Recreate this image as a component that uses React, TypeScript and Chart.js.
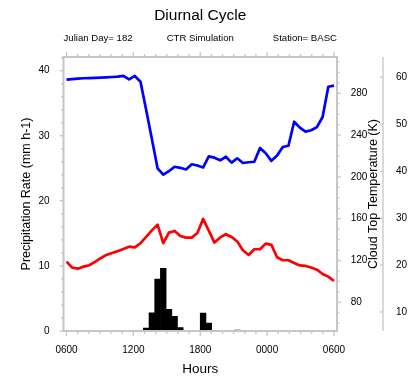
import React, { useEffect, useRef } from 'react';
import { Chart, registerables } from 'chart.js';

Chart.register(...registerables);

const TITLE = 'Diurnal Cycle';
const SUB_LEFT = 'Julian Day= 182';
const SUB_CENTER = 'CTR Simulation';
const SUB_RIGHT = 'Station= BASC';
const X_TITLE = 'Hours';
const Y_TITLE = 'Precipitation Rate (mm h-1)';
const Y2_TITLE = 'Cloud Top Temperature (K)';

// 48 samples spanning 0600 -> 0600 (hours after 0600)
const SAMPLE_COUNT = 48;
const hours = Array.from({ length: SAMPLE_COUNT }, (_, i) => (i * 24) / (SAMPLE_COUNT - 1));

const xTickValues = [0, 6, 12, 18, 24];
const xTickLabels = ['0600', '1200', '1800', '0000', '0600'];
const precipTicks = [0, 10, 20, 30, 40];
const cttTicks = [80, 120, 160, 200, 240, 280];
const outerTicks = [10, 20, 30, 40, 50, 60];

const precipitation = [
  0, 0, 0, 0, 0, 0, 0, 0, 0, 0, 0, 0, 0, 0,
  0.46, 2.81, 7.99, 9.63, 3.33, 2.27, 0.54, 0, 0, 0,
  2.77, 1.23, 0, 0, 0, 0, 0.15, 0, 0, 0, 0, 0,
  0, 0, 0, 0, 0, 0, 0, 0, 0, 0, 0, 0,
];

const cloudTopTemp = [
  293.0, 293.5, 294.1, 294.4, 294.6, 294.8, 295.0, 295.3, 295.6, 296.0, 296.6, 293.4,
  296.6, 291.1, 264.0, 236.3, 208.2, 202.1, 205.6, 209.7, 208.7, 207.1, 212.1, 210.9,
  209.0, 219.7, 218.4, 215.9, 219.3, 213.6, 217.8, 213.3, 214.0, 214.5, 227.7, 222.6,
  215.4, 220.5, 228.6, 229.8, 252.8, 247.1, 243.3, 244.6, 247.6, 257.3, 286.3, 287.3,
];

const thirdSeries = [
  20.72, 19.45, 19.23, 19.66, 19.96, 20.66, 21.45, 22.15, 22.58, 22.96, 23.43, 23.92,
  23.75, 24.65, 25.99, 27.38, 28.61, 24.65, 26.91, 27.27, 26.2, 25.84, 25.84, 26.84,
  29.83, 27.33, 24.78, 25.88, 26.57, 25.99, 25.03, 23.16, 22.15, 23.37, 23.37, 24.56,
  24.29, 21.66, 21.02, 21.02, 20.45, 19.91, 19.81, 19.49, 19.02, 18.1, 17.53, 16.61,
];

const FONT = '"Liberation Sans", Arial, Helvetica, sans-serif';
const FRAME = '#c6c6c6';
const TEXT = '#000000';

const nclPlugin = {
  id: 'nclDecor',
  afterDatasetsDraw(chart: any) {
    const { ctx, chartArea: ca, scales } = chart;
    ctx.save();
    ctx.strokeStyle = FRAME;
    ctx.lineWidth = 2;
    ctx.strokeRect(ca.left, ca.top, ca.right - ca.left, ca.bottom - ca.top);
    ctx.lineWidth = 1.3;
    const seg = (x1: number, y1: number, x2: number, y2: number) => {
      ctx.beginPath();
      ctx.moveTo(x1, y1);
      ctx.lineTo(x2, y2);
      ctx.stroke();
    };
    // x ticks (bottom + top), hourly minors
    for (let h = 0; h <= 24; h += 1) {
      const px = scales.x.getPixelForValue(h);
      const len = h % 6 === 0 ? 5 : 3;
      seg(px, ca.bottom, px, ca.bottom + len);
      seg(px, ca.top, px, ca.top - len);
    }
    // left axis ticks
    for (let v = 0; v <= scales.y.max; v += 2) {
      const py = scales.y.getPixelForValue(v);
      const len = v % 10 === 0 ? 4 : 2.5;
      seg(ca.left, py, ca.left - len, py);
    }
    // right (temperature) axis ticks
    for (let v = 60; v <= scales.y2.max; v += 10) {
      const py = scales.y2.getPixelForValue(v);
      const len = (v - 80) % 40 === 0 ? 4 : 2.5;
      seg(ca.right, py, ca.right + len, py);
    }
    // outer axis line + ticks
    const ox = scales.y3.left;
    seg(ox, ca.top, ox, ca.bottom);
    for (const v of outerTicks) {
      const py = scales.y3.getPixelForValue(v);
      seg(ox, py, ox - 3, py);
    }
    ctx.restore();
  },
  afterDraw(chart: any) {
    const { ctx, chartArea: ca } = chart;
    ctx.save();
    ctx.fillStyle = TEXT;
    ctx.textBaseline = 'alphabetic';
    ctx.font = `15.5px ${FONT}`;
    ctx.textAlign = 'center';
    ctx.fillText(TITLE, (ca.left + ca.right) / 2, 19.7);
    ctx.font = `9.6px ${FONT}`;
    ctx.textAlign = 'left';
    ctx.fillText(SUB_LEFT, ca.left, 40.5);
    ctx.textAlign = 'center';
    ctx.fillText(SUB_CENTER, (ca.left + ca.right) / 2, 40.5);
    ctx.textAlign = 'right';
    ctx.fillText(SUB_RIGHT, ca.right, 40.5);
    // right axis title, reading bottom-to-top
    ctx.translate(373.7, (ca.top + ca.bottom) / 2);
    ctx.rotate(-Math.PI / 2);
    ctx.font = `12.5px ${FONT}`;
    ctx.textAlign = 'center';
    ctx.textBaseline = 'middle';
    ctx.fillText(Y2_TITLE, 0, 0);
    ctx.restore();
  },
};

export default function App() {
  const ref = useRef<HTMLCanvasElement>(null);
  useEffect(() => {
    document.body.style.margin = '0';
    const tickFont = { family: FONT, size: 10 };
    const chart = new Chart(ref.current as HTMLCanvasElement, {
      type: 'line',
      data: {
        datasets: [
          {
            type: 'line',
            label: 'Cloud Top Temperature',
            data: hours.map((h, i) => ({ x: h, y: cloudTopTemp[i] })),
            yAxisID: 'y2',
            borderColor: '#0000ff',
            borderWidth: 2.7,
            pointRadius: 0,
            tension: 0,
            borderJoinStyle: 'round',
          },
          {
            type: 'line',
            label: 'Third',
            data: hours.map((h, i) => ({ x: h, y: thirdSeries[i] })),
            yAxisID: 'y3',
            borderColor: '#ff0000',
            borderWidth: 2.7,
            pointRadius: 0,
            tension: 0,
            borderJoinStyle: 'round',
          },
          {
            type: 'bar',
            label: 'Precipitation',
            data: hours.map((h, i) => ({ x: h, y: precipitation[i] })),
            yAxisID: 'y',
            backgroundColor: '#000000',
            borderWidth: 0,
            categoryPercentage: 1,
            barPercentage: 1,
          },
        ] as any,
      },
      options: {
        responsive: false,
        animation: false,
        devicePixelRatio: 1,
        layout: { padding: { top: 57, left: 0, right: 0, bottom: 0 } },
        plugins: {
          legend: { display: false },
          tooltip: { enabled: false },
          title: { display: false },
        },
        scales: {
          x: {
            type: 'linear',
            position: 'bottom',
            offset: false,
            min: -0.27,
            max: 24.27,
            afterBuildTicks: (s: any) => {
              s.ticks = xTickValues.map((v) => ({ value: v }));
            },
            afterFit: (s: any) => {
              s.height = 47;
            },
            ticks: {
              callback: (_v: any, i: number) => xTickLabels[i],
              font: tickFont,
              color: TEXT,
              padding: 13.7,
              maxRotation: 0,
              autoSkip: false,
            },
            grid: { display: false, drawTicks: false, offset: false },
            border: { display: false },
            title: {
              display: true,
              text: X_TITLE,
              font: { family: FONT, size: 13.5 },
              color: TEXT,
              padding: { top: 0, bottom: 0.2 },
            },
          },
          y: {
            type: 'linear',
            position: 'left',
            min: 0,
            max: 42.1,
            afterBuildTicks: (s: any) => {
              s.ticks = precipTicks.map((v) => ({ value: v }));
            },
            afterFit: (s: any) => {
              s.width = 63.5;
            },
            ticks: { font: tickFont, color: TEXT, padding: 14 },
            grid: { display: false, drawTicks: false },
            border: { display: false },
            title: {
              display: true,
              text: Y_TITLE,
              font: { family: FONT, size: 12.5 },
              color: TEXT,
              padding: { top: 19.5, bottom: 0 },
            },
          },
          y2: {
            type: 'linear',
            position: 'right',
            weight: 0,
            min: 52.54,
            max: 314.74,
            afterBuildTicks: (s: any) => {
              s.ticks = cttTicks.map((v) => ({ value: v }));
            },
            afterFit: (s: any) => {
              s.width = 46;
            },
            ticks: { font: tickFont, color: TEXT, padding: 13.7 },
            grid: { display: false, drawTicks: false },
            border: { display: false },
          },
          y3: {
            type: 'linear',
            position: 'right',
            weight: 1,
            min: 5.95,
            max: 64.32,
            afterBuildTicks: (s: any) => {
              s.ticks = outerTicks.map((v) => ({ value: v }));
            },
            afterFit: (s: any) => {
              s.width = 26;
            },
            ticks: { font: tickFont, color: TEXT, padding: 13 },
            grid: { display: false, drawTicks: false },
            border: { display: false },
          },
        },
      } as any,
      plugins: [nclPlugin],
    });
    return () => chart.destroy();
  }, []);
  return (
    <div style={{ width: 409, height: 378 }}>
      <canvas ref={ref} width={409} height={378} />
    </div>
  );
}
